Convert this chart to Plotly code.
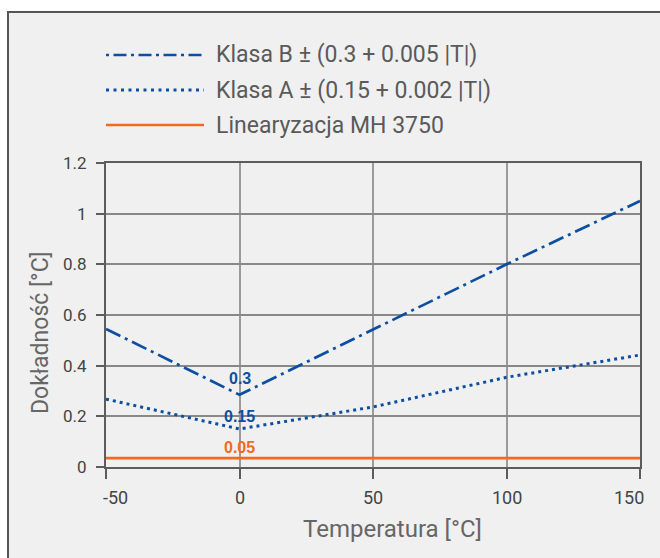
import plotly.graph_objects as go

# ---- data ----
temp_b = [-50, 0, 100, 150]
klasa_b = [0.545, 0.285, 0.80, 1.05]
temp_a = [-50, 0, 50, 100, 150]
klasa_a = [0.268, 0.15, 0.237, 0.354, 0.442]
temp_l = [-50, 150]
linear = [0.035, 0.035]
label_texts = ["0.3", "0.15", "0.05"]
label_vals = [0.285, 0.15, 0.035]
series_names = ["Klasa B ± (0.3 + 0.005 |T|)", "Klasa A ± (0.15 + 0.002 |T|)", "Linearyzacja MH 3750"]
x_ticks = [-50, 0, 50, 100, 150]
x_tick_labels = ["-50", "0", "50", "100", "150"]
y_ticks = [0, 0.2, 0.4, 0.6, 0.8, 1, 1.2]
y_tick_labels = ["0", "0.2", "0.4", "0.6", "0.8", "1", "1.2"]

BLUE = "#0b4fa2"
ORANGE = "#f26a22"
FONT = "Roboto"

# plot area geometry (pixels) used only for layout placement
W, H = 660, 558
L, R, T, B = 106, 640, 163, 467
pw, ph = R - L, B - T
def px(x): return (x - L) / pw
def py(y): return (B - y) / ph

fig = go.Figure()
fig.add_trace(go.Scatter(x=temp_b, y=klasa_b, mode="lines", name=series_names[0],
                         line=dict(color=BLUE, width=2.7, dash="16px,5px,3px,5px"), showlegend=False))
fig.add_trace(go.Scatter(x=temp_a, y=klasa_a, mode="lines", name=series_names[1],
                         line=dict(color=BLUE, width=3, dash="3px,4px"), showlegend=False))
fig.add_trace(go.Scatter(x=temp_l, y=linear, mode="lines", name=series_names[2],
                         line=dict(color=ORANGE, width=2.7), showlegend=False))

shapes = []
# outer frame
shapes.append(dict(type="rect", xref="paper", yref="paper", x0=px(8), x1=px(700), y0=py(600), y1=py(12),
                   fillcolor="#f0f0f0", line=dict(color="#555555", width=2), layer="below"))
# manual legend
leg_styles = [dict(color=BLUE, width=2.7, dash="3px,4.5px,13px,4.5px"),
              dict(color=BLUE, width=3, dash="3px,4.5px"),
              dict(color=ORANGE, width=2.7)]
leg_y = [55, 90, 125]
annotations = []
for name, st, yy in zip(series_names, leg_styles, leg_y):
    shapes.append(dict(type="line", xref="paper", yref="paper", x0=px(106), x1=px(204), y0=py(yy), y1=py(yy), line=st))
    annotations.append(dict(text=name, xref="paper", yref="paper", x=px(214), y=py(yy), xanchor="left",
                            yanchor="middle", showarrow=False, font=dict(family=FONT, size=23, color="#5a5a5a")))

label_colors = [BLUE, BLUE, ORANGE]
label_shift = [16, 13, 11]
for t, v, c, s in zip(label_texts, label_vals, label_colors, label_shift):
    annotations.append(dict(text="<b>" + t + "</b>", x=0, y=v, xref="x", yref="y", showarrow=False,
                            yshift=s, font=dict(family="Liberation Sans", size=16, color=c)))

# x tick labels (first/last kept inside the frame like the original)
for i, (tv, tt) in enumerate(zip(x_ticks, x_tick_labels)):
    anchor, shift = "center", 0
    if i == 0:
        anchor, shift = "left", -5
    elif i == len(x_ticks) - 1:
        anchor, shift = "right", 6
    annotations.append(dict(text=tt, x=tv, xref="x", y=py(497), yref="paper", xanchor=anchor, xshift=shift,
                            yanchor="middle", showarrow=False, font=dict(family=FONT, size=18, color="#444444")))

annotations.append(dict(text="Temperatura [°C]", xref="paper", yref="paper", x=px(392), y=py(529),
                        xanchor="center", yanchor="middle", showarrow=False,
                        font=dict(family=FONT, size=24, color="#666666")))
annotations.append(dict(text="Dokładność [°C]", xref="paper", yref="paper", x=px(40), y=py(333),
                        xanchor="center", yanchor="middle", showarrow=False, textangle=-90,
                        font=dict(family=FONT, size=23, color="#666666")))

fig.update_layout(
    width=W, height=H,
    margin=dict(l=L, r=W - R, t=T, b=H - B, pad=0, autoexpand=False),
    paper_bgcolor="white", plot_bgcolor="rgba(0,0,0,0)",
    shapes=shapes, annotations=annotations,
    font=dict(family=FONT, color="#444444"),
)
fig.update_xaxes(range=[-50, 150], tickvals=x_ticks, showticklabels=False, automargin=False,
                 showgrid=True, gridcolor="#9a9a9a", gridwidth=1.5,
                 showline=True, linecolor="#5c5c5c", linewidth=2, mirror=True,
                 ticks="outside", ticklen=10, tickwidth=2, tickcolor="#5c5c5c", zeroline=False)
fig.update_yaxes(range=[0, 1.2], tickvals=y_ticks, ticktext=y_tick_labels, automargin=False, showgrid=True,
                 gridcolor="#888888", gridwidth=1.5,
                 showline=True, linecolor="#5c5c5c", linewidth=2, mirror=True,
                 ticks="outside", ticklen=8, tickwidth=2, tickcolor="#5c5c5c", ticklabelstandoff=6,
                 tickfont=dict(family=FONT, size=17, color="#444444"), zeroline=False)

fig.write_html("out.html", config={"displayModeBar": False},
               post_script="document.body.style.margin='0';document.body.style.overflow='hidden';")
